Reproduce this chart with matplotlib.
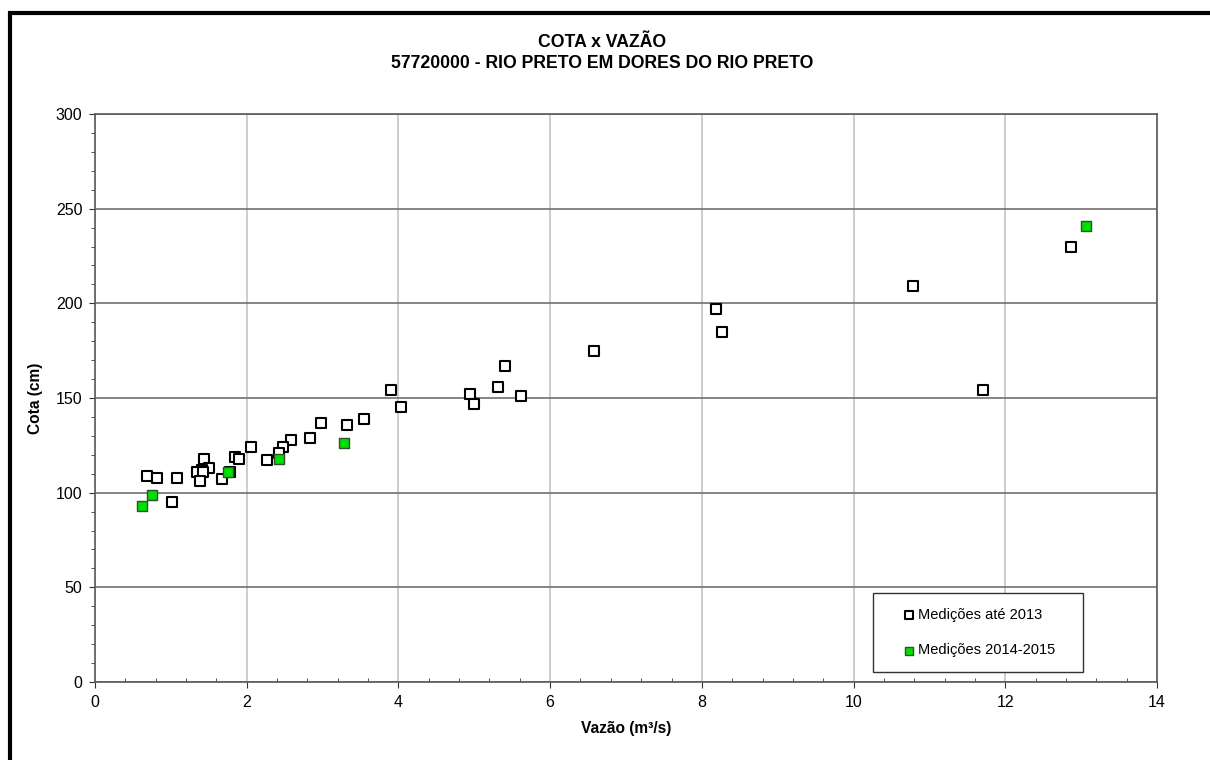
import matplotlib.pyplot as plt
import matplotlib.ticker as ticker
from matplotlib.patches import Rectangle

plt.rcParams['font.family'] = ['Liberation Sans', 'DejaVu Sans']

# medições até 2013 (vazão m3/s, cota cm)
vazao_ate2013 = [3.90, 4.03, 2.98, 3.32, 3.54, 2.84, 2.58, 2.48, 2.43, 2.06,
                 2.27, 1.85, 1.90, 1.44, 1.50, 1.41, 1.34, 1.42, 1.38, 1.68,
                 1.78, 0.69, 0.82, 1.08, 1.01, 4.95, 5.00, 5.31, 5.41, 5.61,
                 6.58, 8.19, 8.26, 10.78, 11.71, 12.87]
cota_ate2013 = [154, 145, 137, 136, 139, 129, 128, 124, 121, 124,
                117, 119, 118, 118, 113, 112, 111, 111, 106, 107,
                111, 109, 108, 108, 95, 152, 147, 156, 167, 151,
                175, 197, 185, 209, 154, 230]

# medições 2014-2015
vazao_2014 = [0.62, 0.75, 1.76, 2.43, 3.28, 13.07]
cota_2014 = [93, 99, 111, 118, 126, 241]

fig = plt.figure(figsize=(12.1, 7.6), dpi=100)
ax = fig.add_axes([0.0785, 0.1026, 0.8777, 0.7474])

# frame of the chart area (only left/top visible)
fig.patches.append(Rectangle((0.0083, -0.2), 1.5, 1.183, transform=fig.transFigure,
                             fill=False, edgecolor='black', linewidth=3))

ax.scatter(vazao_ate2013, cota_ate2013, marker='s', s=48, facecolor='white',
           edgecolor='black', linewidth=1.5, label='Medições até 2013', zorder=3)
ax.scatter(vazao_2014, cota_2014, marker='s', s=48, facecolor='#00e000',
           edgecolor='#2f4f2f', linewidth=1.0, label='Medições 2014-2015', zorder=4)

ax.set_xlim(0, 14)
ax.set_ylim(0, 300)
ax.xaxis.set_major_locator(ticker.MultipleLocator(2))
ax.xaxis.set_minor_locator(ticker.MultipleLocator(0.4))
ax.yaxis.set_major_locator(ticker.MultipleLocator(50))
ax.yaxis.set_minor_locator(ticker.MultipleLocator(10))

ax.grid(axis='x', which='major', color='#c4c4c4', linewidth=1.2)
ax.grid(axis='y', which='major', color='#707070', linewidth=1.2)
ax.set_axisbelow(True)

for s in ax.spines.values():
    s.set_color('#5a5a5a')
    s.set_linewidth(1.2)

ax.tick_params(axis='both', which='major', labelsize=11.5, direction='out', length=4,
               color='#333333', pad=5)
ax.tick_params(axis='x', which='minor', direction='in', length=3, color='#333333')
ax.tick_params(axis='y', which='minor', direction='out', length=3, color='#333333')

ax.set_xlabel('Vazão (m³/s)', fontsize=11.2, fontweight='bold', labelpad=8)
ax.set_ylabel('Cota (cm)', fontsize=11.2, fontweight='bold', labelpad=9)

fig.text(0.4975, 0.944, 'COTA x VAZÃO', ha='center', va='center',
         fontsize=12.7, fontweight='bold')
fig.text(0.4975, 0.917, '57720000 - RIO PRETO EM DORES DO RIO PRETO', ha='center',
         va='center', fontsize=12.7, fontweight='bold')

leg = ax.legend(loc='lower left', bbox_to_anchor=(0.7326, 0.0176, 0.1977, 0.1),
                mode='expand', fontsize=10.5,
                frameon=True, fancybox=False, edgecolor='#333333', framealpha=1,
                handletextpad=-0.9, labelspacing=1.5, borderpad=1.0,
                markerscale=0.75, borderaxespad=0, handlelength=3.0)
leg.get_frame().set_linewidth(1.0)

fig.savefig('out.png', dpi=100)
